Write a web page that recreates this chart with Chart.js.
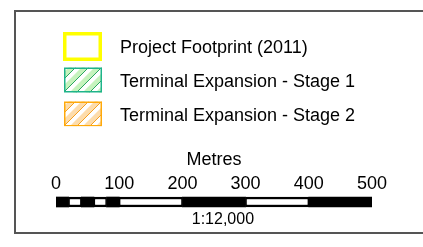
<!DOCTYPE html>
<html>
<head>
<meta charset="utf-8">
<script src="https://cdn.jsdelivr.net/npm/chart.js@4.4.1/dist/chart.umd.min.js"></script>
<style>
  html, body { margin: 0; padding: 0; background: #fff; overflow: hidden; }
  canvas { display: block; }
</style>
</head>
<body>
<canvas id="chart" width="423" height="247"></canvas>
<script>
// --- legend entries ---
const legendLabels = ['Project Footprint (2011)', 'Terminal Expansion - Stage 1', 'Terminal Expansion - Stage 2'];
const legendStroke = ['#ffff00', '#1fb48a', '#ffa90a'];
const legendHatch = [null, '#c6f3bd', '#fddcab'];
const legendLine = [null, '#2aa860', '#f5a020'];

// --- scale bar ---
const unitLabel = 'Metres';
const scaleRatio = '1:12,000';
const scaleTicks = [0, 100, 200, 300, 400, 500];
const blackSegments = [[0, 20], [40, 60], [80, 100], [200, 300], [400, 500]];
const whiteSegments = [[20, 40], [60, 80], [100, 200], [300, 400]];

Chart.defaults.font.family = '"Liberation Sans", Arial, sans-serif';
Chart.defaults.color = '#000';

// small canvases used as legend swatches
function makeSwatch(i) {
    const c = document.createElement('canvas');
    c.width = 57;
    c.height = 34;
    const ctx = c.getContext('2d');
    if (!legendHatch[i]) {
        ctx.strokeStyle = legendStroke[i];
        ctx.lineWidth = 3.5;
        ctx.strokeRect(1.75, 2.75, 35.5, 25.5);
        return c;
    }
    const x0 = 1, y0 = 2.5, w = 38, h = 25;
    ctx.save();
    ctx.beginPath();
    ctx.rect(x0, y0, w, h);
    ctx.clip();
    ctx.fillStyle = '#fff';
    ctx.fillRect(x0, y0, w, h);
    for (let k = -30; k < 60; k += 13) {
        ctx.strokeStyle = legendHatch[i];
        ctx.lineWidth = 5;
        ctx.beginPath();
        ctx.moveTo(x0 + k, y0 + h);
        ctx.lineTo(x0 + k + h, y0);
        ctx.stroke();
        ctx.strokeStyle = legendLine[i];
        ctx.lineWidth = 1;
        ctx.beginPath();
        ctx.moveTo(x0 + k + 3.5, y0 + h);
        ctx.lineTo(x0 + k + 3.5 + h, y0);
        ctx.stroke();
    }
    ctx.restore();
    ctx.strokeStyle = legendStroke[i];
    ctx.lineWidth = 1.5;
    ctx.strokeRect(x0 + 0.75, y0 + 0.75, w - 1.5, h - 1.5);
    return c;
}
const swatches = legendLabels.map((_, i) => makeSwatch(i));

// open frame round the legend (right side runs off the page)
const framePlugin = {
    id: 'frame',
    beforeDraw(chart) {
        const ctx = chart.ctx;
        ctx.save();
        ctx.fillStyle = '#fff';
        ctx.fillRect(0, 0, chart.width, chart.height);
        ctx.strokeStyle = '#555';
        ctx.lineWidth = 2;
        ctx.beginPath();
        ctx.moveTo(chart.width + 5, 11);
        ctx.lineTo(15, 11);
        ctx.lineTo(15, 233);
        ctx.lineTo(chart.width + 5, 233);
        ctx.stroke();
        ctx.restore();
    }
};

const datasets = [
    ...whiteSegments.map(seg => ({
        data: [seg],
        backgroundColor: '#fff',
        borderColor: '#000',
        borderWidth: { top: 2.5, bottom: 2.5, left: 1.5, right: 1.5 },
        borderSkipped: false,
        barThickness: 10,
        grouped: false,
        order: 0
    })),
    ...blackSegments.map(seg => ({
        data: [seg],
        backgroundColor: '#000',
        borderWidth: 0,
        barThickness: 10,
        grouped: false,
        order: 1
    }))
];

new Chart(document.getElementById('chart'), {
    type: 'bar',
    data: { labels: ['scale'], datasets },
    plugins: [framePlugin],
    options: {
        indexAxis: 'y',
        responsive: false,
        animation: false,
        devicePixelRatio: 1,
        layout: { padding: { left: 56, right: 51, top: 23, bottom: 17.4 } },
        scales: {
            x: {
                type: 'linear',
                position: 'top',
                min: scaleTicks[0],
                max: scaleTicks[scaleTicks.length - 1],
                afterBuildTicks: scale => { scale.ticks = scaleTicks.map(v => ({ value: v })); },
                ticks: { font: { size: 18 }, color: '#000', padding: 1.2 },
                grid: { display: false, drawTicks: false },
                border: { display: false },
                title: {
                    display: true,
                    text: unitLabel,
                    color: '#000',
                    font: { size: 18 },
                    padding: { top: 22.9, bottom: 1.2 }
                }
            },
            y: { display: false }
        },
        plugins: {
            tooltip: { enabled: false },
            legend: {
                position: 'top',
                align: 'start',
                onClick: null,
                labels: {
                    usePointStyle: true,
                    pointStyleWidth: 39,
                    padding: 16,
                    color: '#000',
                    font: { size: 18 },
                    generateLabels: () => legendLabels.map((text, i) => ({
                        text,
                        pointStyle: swatches[i],
                        fillStyle: 'rgba(0,0,0,0)',
                        strokeStyle: 'rgba(0,0,0,0)',
                        lineWidth: 0,
                        hidden: false,
                        index: i
                    }))
                }
            },
            title: {
                display: true,
                position: 'bottom',
                text: '    ' + scaleRatio,
                color: '#000',
                font: { size: 16, weight: 'normal' },
                padding: { top: 2.4, bottom: 0 }
            }
        }
    }
});
</script>
</body>
</html>
